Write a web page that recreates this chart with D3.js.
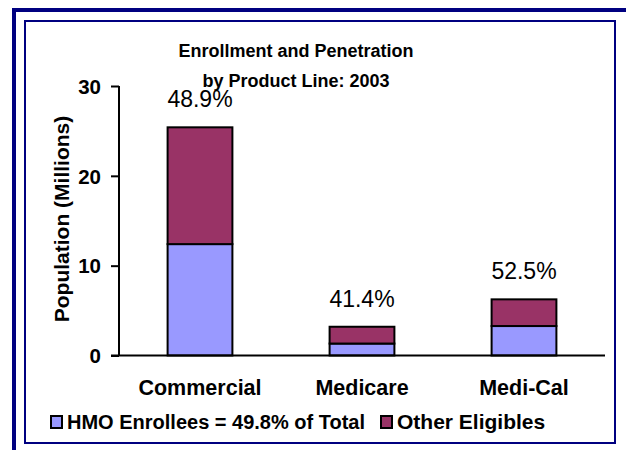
<!DOCTYPE html>
<html>
<head>
<meta charset="utf-8">
<script src="https://cdn.jsdelivr.net/npm/d3@7/dist/d3.min.js"></script>
<style>
  html, body { margin: 0; padding: 0; background: #fff; }
  svg { display: block; font-family: "Liberation Sans", Arial, sans-serif; }
</style>
</head>
<body>
<svg id="chart" width="626" height="450"></svg>
<script>
const categories = ["Commercial", "Medicare", "Medi-Cal"];
const hmoEnrollees = [12.4, 1.33, 3.28];
const otherEligibles = [13.0, 1.87, 2.97];
const penetrationLabels = ["48.9%", "41.4%", "52.5%"];
const yTicks = [0, 10, 20, 30];
const seriesNames = ["HMO Enrollees = 49.8% of Total", "Other Eligibles"];
const seriesColors = ["#9999FF", "#993366"];
const titleLines = ["Enrollment and Penetration", "by Product Line: 2003"];
const yAxisTitle = "Population (Millions)";

const FONT = "Liberation Sans, Arial, sans-serif";
const svg = d3.select("#chart");

// frames
svg.append("rect").attr("x", 14).attr("y", 10).attr("width", 626).attr("height", 460)
  .attr("fill", "none").attr("stroke", "#000080").attr("stroke-width", 4);
svg.append("rect").attr("x", 25).attr("y", 21).attr("width", 590).attr("height", 422)
  .attr("fill", "none").attr("stroke", "#000080").attr("stroke-width", 2);

const x = d3.scaleBand().domain(categories).range([119, 605]).paddingInner(0.6).paddingOuter(0.3);
const y = d3.scaleLinear().domain([0, 30]).range([355.5, 86]);

const data = categories.map((c, i) => ({ cat: c, hmo: hmoEnrollees[i], other: otherEligibles[i], label: penetrationLabels[i] }));
const stack = d3.stack().keys(["hmo", "other"])(data);

const g = svg.append("g");
stack.forEach((layer, li) => {
  g.selectAll(null).data(layer).enter().append("rect")
    .attr("x", d => x(d.data.cat))
    .attr("width", x.bandwidth())
    .attr("y", d => y(d[1]))
    .attr("height", d => y(d[0]) - y(d[1]))
    .attr("fill", seriesColors[li])
    .attr("stroke", "#000").attr("stroke-width", 2);
});

// y axis
const yAxis = d3.axisLeft(y).tickValues(yTicks).tickSize(8).tickPadding(10).tickFormat(d3.format("d"));
const ya = svg.append("g").attr("transform", "translate(119,0)").call(yAxis);
ya.select(".domain").attr("stroke", "#000").attr("stroke-width", 2).attr("d", `M0,${y(30)}V${y(0)}`);
ya.selectAll(".tick line").attr("stroke", "#000").attr("stroke-width", 2);
ya.selectAll(".tick text").attr("font-size", 20.5).attr("font-weight", "bold").attr("fill", "#000")
  .attr("font-family", FONT).attr("dy", "0.35em");

// x axis baseline
const xAxis = d3.axisBottom(x).tickSize(0).tickPadding(0);
const xa = svg.append("g").attr("transform", `translate(0,${y(0)})`).call(xAxis);
xa.select(".domain").attr("stroke", "#000").attr("stroke-width", 2).attr("d", `M111,0H605`);
xa.selectAll(".tick text").attr("font-size", 21.5).attr("font-weight", "bold").attr("fill", "#000")
  .attr("font-family", FONT).attr("dy", 0).attr("y", 39.5);

// value labels
g.selectAll(null).data(data).enter().append("text")
  .attr("x", d => x(d.cat) + x.bandwidth() / 2)
  .attr("y", d => y(d.hmo + d.other) - 20)
  .attr("text-anchor", "middle").attr("font-size", 23).attr("fill", "#000")
  .text(d => d.label);

// title
svg.append("text").attr("x", 296).attr("y", 57).attr("text-anchor", "middle")
  .attr("font-size", 18).attr("font-weight", "bold").text(titleLines[0]);
svg.append("text").attr("x", 296).attr("y", 87).attr("text-anchor", "middle")
  .attr("font-size", 18).attr("font-weight", "bold").text(titleLines[1]);

// y axis title
svg.append("text").attr("transform", "translate(69,219) rotate(-90)").attr("text-anchor", "middle")
  .attr("font-size", 21).attr("font-weight", "bold").text(yAxisTitle);

// legend
const legendX = [51, 381];
const legendSize = [20, 21];
seriesNames.forEach((n, i) => {
  svg.append("rect").attr("x", legendX[i]).attr("y", 416).attr("width", 11).attr("height", 12)
    .attr("fill", seriesColors[i]).attr("stroke", "#000").attr("stroke-width", 2);
  svg.append("text").attr("x", legendX[i] + 16).attr("y", 429).attr("font-size", legendSize[i])
    .attr("font-weight", "bold").text(n);
});
</script>
</body>
</html>
